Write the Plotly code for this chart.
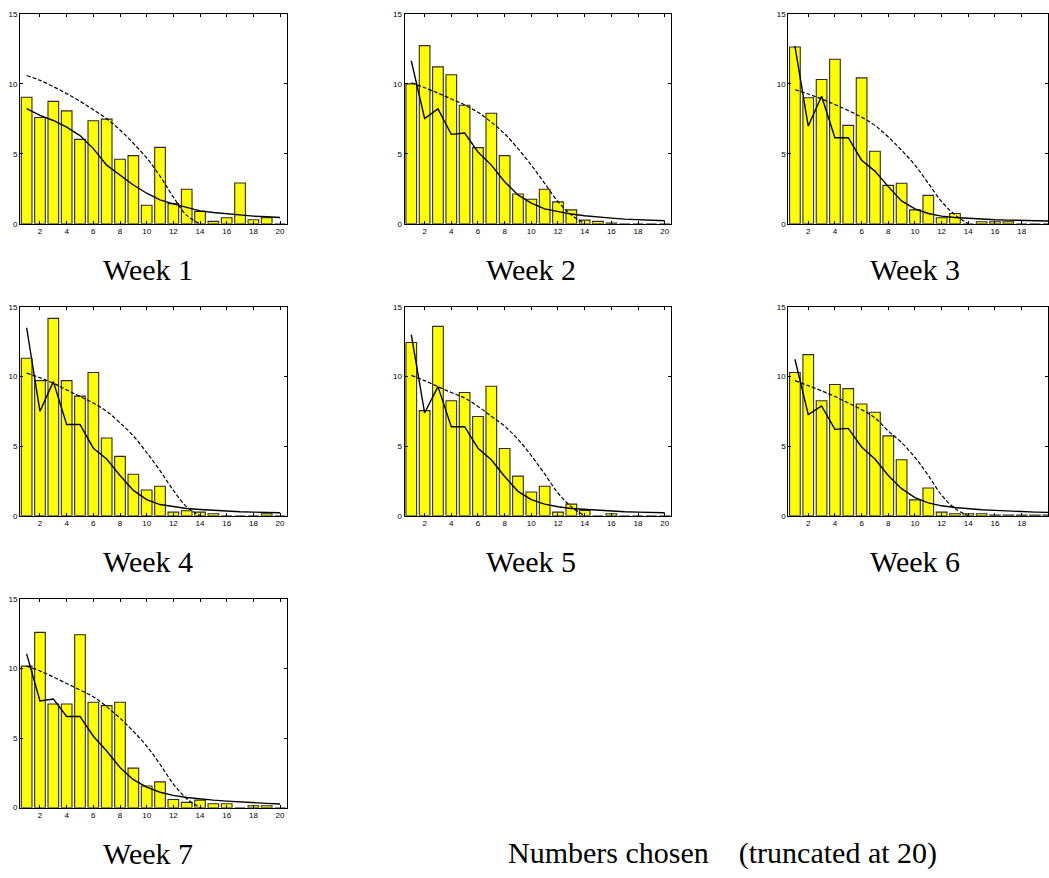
import plotly.graph_objects as go

# ---------------- data ----------------
numbers = list(range(1, 21))
dash_numbers = list(range(1, 15))
x_tick_vals = [2, 4, 6, 8, 10, 12, 14, 16, 18, 20]
y_tick_vals = [0, 5, 10, 15]
week_labels = ["Week 1", "Week 2", "Week 3", "Week 4", "Week 5", "Week 6", "Week 7"]
footer_label = "Numbers chosen\u00a0\u00a0\u00a0\u00a0(truncated at 20)"

bars_w1 = [9.04, 7.59, 8.75, 8.07, 6.03, 7.36, 7.48, 4.61, 4.87, 1.32,
           5.46, 1.44, 2.46, 0.88, 0.17, 0.43, 2.91, 0.28, 0.43, 0.0]
bars_w2 = [10.0, 12.73, 11.21, 10.65, 8.47, 5.44, 7.9, 4.87, 2.13, 1.75,
           2.46, 1.56, 0.99, 0.26, 0.17, 0.05, 0.0, 0.0, 0.0, 0.0]
bars_w3 = [12.63, 9.01, 10.31, 11.76, 7.03, 10.43, 5.18, 2.74, 2.89, 0.99,
           2.03, 0.43, 0.73, 0.0, 0.14, 0.14, 0.14, 0.0, 0.0, 0.0]
bars_w4 = [11.31, 9.7, 14.17, 9.7, 8.59, 10.29, 5.58, 4.26, 2.98, 1.85,
           2.11, 0.26, 0.35, 0.26, 0.14, 0.0, 0.0, 0.0, 0.14, 0.0]
bars_w5 = [12.44, 7.55, 13.6, 8.26, 8.85, 7.12, 9.3, 4.83, 2.84, 1.7,
           2.11, 0.26, 0.83, 0.38, 0.0, 0.14, 0.0, 0.0, 0.0, 0.0]
bars_w6 = [10.29, 11.57, 8.26, 9.42, 9.13, 8.02, 7.43, 5.73, 4.02, 1.14,
           1.99, 0.26, 0.14, 0.14, 0.14, 0.05, 0.05, 0.05, 0.05, 0.05]
bars_w7 = [10.17, 12.59, 7.45, 7.45, 12.42, 7.57, 7.33, 7.57, 2.84, 1.56,
           1.85, 0.59, 0.38, 0.54, 0.28, 0.28, 0.0, 0.14, 0.14, 0.0]

solid_w1 = [8.23, 7.74, 7.38, 6.9, 6.3, 5.37, 4.19, 3.48, 2.77, 2.18,
            1.7, 1.42, 1.16, 0.92, 0.8, 0.71, 0.62, 0.54, 0.5, 0.45]
solid_w2 = [11.64, 7.52, 8.21, 6.39, 6.48, 5.13, 4.19, 3.0, 2.06, 1.47,
            1.06, 0.88, 0.69, 0.57, 0.47, 0.4, 0.33, 0.28, 0.24, 0.21]
solid_w3 = [12.7, 6.98, 9.11, 6.15, 6.15, 4.54, 3.76, 2.65, 1.63, 1.06,
            0.73, 0.54, 0.45, 0.38, 0.33, 0.28, 0.26, 0.24, 0.21, 0.19]
solid_w4 = [13.5, 7.5, 9.63, 6.55, 6.55, 4.85, 4.07, 2.89, 1.82, 1.16,
            0.8, 0.64, 0.52, 0.45, 0.38, 0.33, 0.28, 0.26, 0.24, 0.21]
solid_w5 = [13.0, 7.38, 9.27, 6.39, 6.39, 4.85, 4.02, 2.82, 1.75, 1.16,
            0.83, 0.64, 0.52, 0.45, 0.38, 0.33, 0.28, 0.26, 0.24, 0.21]
solid_w6 = [11.24, 7.26, 7.88, 6.2, 6.27, 4.94, 4.07, 2.89, 1.94, 1.3,
            0.92, 0.71, 0.59, 0.5, 0.43, 0.38, 0.33, 0.28, 0.26, 0.24]
solid_w7 = [11.05, 7.67, 7.81, 6.55, 6.55, 5.13, 4.07, 2.89, 2.01, 1.47,
            1.11, 0.88, 0.73, 0.62, 0.54, 0.47, 0.4, 0.35, 0.31, 0.26]

dashed_w1 = [10.6, 10.25, 9.8, 9.3, 8.75, 8.15, 7.5, 6.7, 5.75, 4.7,
             3.4, 1.9, 0.6, 0.0]
dashed_w2 = [10.08, 9.72, 9.34, 8.92, 8.49, 7.97, 7.26, 6.43, 5.37, 4.19,
             2.89, 1.58, 0.64, 0.0]
dashed_w3 = [9.58, 9.27, 8.92, 8.52, 8.09, 7.62, 7.03, 6.2, 5.25, 4.19,
             2.89, 1.58, 0.64, 0.0]
dashed_w4 = [10.24, 9.91, 9.51, 9.04, 8.56, 8.09, 7.5, 6.67, 5.73, 4.54,
             3.24, 1.82, 0.64, 0.0]
dashed_w5 = [10.08, 9.7, 9.27, 8.85, 8.45, 7.85, 7.14, 6.43, 5.49, 4.31,
             3.0, 1.63, 0.64, 0.0]
dashed_w6 = [9.7, 9.34, 8.97, 8.56, 8.09, 7.62, 7.03, 6.08, 5.25, 4.19,
             2.89, 1.47, 0.52, 0.0]
dashed_w7 = [10.17, 9.82, 9.39, 8.92, 8.45, 7.97, 7.26, 6.43, 5.49, 4.42,
             3.12, 1.7, 0.64, 0.0]

bars_all = [bars_w1, bars_w2, bars_w3, bars_w4, bars_w5, bars_w6, bars_w7]
solid_all = [solid_w1, solid_w2, solid_w3, solid_w4, solid_w5, solid_w6, solid_w7]
dashed_all = [dashed_w1, dashed_w2, dashed_w3, dashed_w4, dashed_w5, dashed_w6, dashed_w7]

# ---------------- layout geometry (pixels) ----------------
W, H = 1049, 878
col_left = [20, 405, 789]
col_width = 267
row_top = [10, 306, 601]
row_bottom = [222, 517, 812]
title_x = [148, 532, 916]
title_y = [268, 563, 858]

fig = go.Figure()
layout_axes = {}
annotations = []

for i in range(7):
    r, c = divmod(i, 3)
    ax = "" if i == 0 else str(i + 1)
    xa, ya = "x" + ax, "y" + ax
    x0 = col_left[c] / W
    x1 = min(col_left[c] + col_width, W) / W
    if col_left[c] + col_width > W:
        xr_end = 0.5 + (W - col_left[c]) / (col_width / 20.0)
    else:
        xr_end = 20.5
    y0 = 1 - row_bottom[r] / H
    y1 = 1 - row_top[r] / H

    fig.add_trace(go.Bar(
        x=numbers, y=bars_all[i], width=0.8, xaxis=xa, yaxis=ya,
        marker=dict(color="#ffff00", line=dict(color="#2a2a2a", width=1.1)),
        showlegend=False, hoverinfo="skip"))
    fig.add_trace(go.Scatter(
        x=numbers, y=solid_all[i], mode="lines", xaxis=xa, yaxis=ya,
        line=dict(color="black", width=1.4), showlegend=False, hoverinfo="skip"))
    fig.add_trace(go.Scatter(
        x=dash_numbers, y=dashed_all[i], mode="lines", xaxis=xa, yaxis=ya,
        line=dict(color="black", width=1.2, dash="4px,2px", shape="spline"),
        showlegend=False, hoverinfo="skip"))

    common = dict(showline=True, linecolor="black", linewidth=1, mirror="ticks",
                  ticks="inside", ticklen=3, tickcolor="black", tickwidth=1,
                  showgrid=False, zeroline=False, fixedrange=True,
                  tickfont=dict(family="Liberation Sans, Arial, sans-serif", size=8, color="black"))
    layout_axes["xaxis" + ax] = dict(common, domain=[x0, x1], range=[0.5, xr_end],
                                     tickvals=x_tick_vals, anchor=ya)
    layout_axes["yaxis" + ax] = dict(common, domain=[y0, y1], range=[0, 15],
                                     tickvals=y_tick_vals, anchor=xa)
    annotations.append(dict(text=week_labels[i], x=title_x[c] / W, y=1 - title_y[r] / H,
                            xref="paper", yref="paper", xanchor="center", yanchor="middle",
                            showarrow=False,
                            font=dict(family="Liberation Serif, Times New Roman, serif",
                                      size=30, color="black")))

annotations.append(dict(text=footer_label, x=723 / W, y=1 - 858 / H,
                        xref="paper", yref="paper", xanchor="center", yanchor="middle",
                        showarrow=False,
                        font=dict(family="Liberation Serif, Times New Roman, serif",
                                  size=30, color="black")))

fig.update_layout(width=W, height=H, margin=dict(l=0, r=0, t=0, b=0),
                  paper_bgcolor="white", plot_bgcolor="white",
                  barmode="overlay", annotations=annotations, **layout_axes)

fig.write_html("out.html", config={"displayModeBar": False})
